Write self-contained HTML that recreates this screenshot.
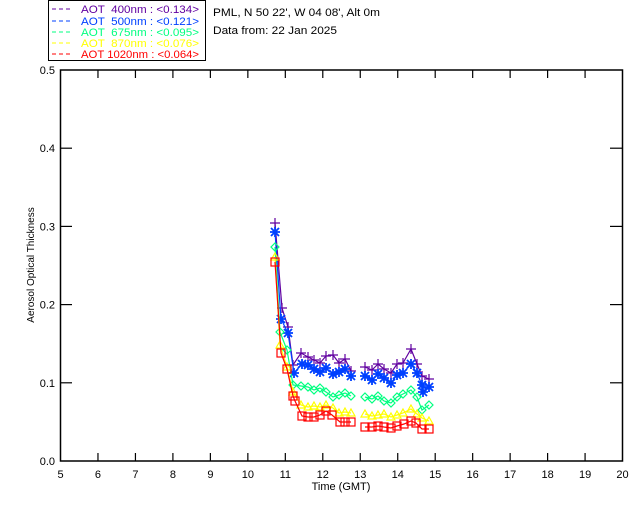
<!DOCTYPE html>
<html><head><meta charset="utf-8"><style>
html,body{margin:0;padding:0;background:#fff;}
svg{display:block;font-family:"Liberation Sans","DejaVu Sans",sans-serif;}
</style></head><body>
<svg id="s" width="640" height="512" xmlns="http://www.w3.org/2000/svg">
<rect width="640" height="512" fill="#fff"/>
<rect x="48.5" y="0.5" width="157" height="60" fill="none" stroke="#000"/>
<g font-size="11">
<line x1="52" y1="9" x2="72" y2="9" stroke="#6000a0" stroke-dasharray="4,3"/>
<text x="81" y="13" fill="#6000a0" textLength="118" lengthAdjust="spacingAndGlyphs" xml:space="preserve">AOT  400nm : &lt;0.134&gt;</text>
<line x1="52" y1="21" x2="72" y2="21" stroke="#0040ff" stroke-dasharray="4,3"/>
<text x="81" y="25" fill="#0040ff" textLength="118" lengthAdjust="spacingAndGlyphs" xml:space="preserve">AOT  500nm : &lt;0.121&gt;</text>
<line x1="52" y1="32" x2="72" y2="32" stroke="#00ff80" stroke-dasharray="4,3"/>
<text x="81" y="36" fill="#00ff80" textLength="118" lengthAdjust="spacingAndGlyphs" xml:space="preserve">AOT  675nm : &lt;0.095&gt;</text>
<line x1="52" y1="43" x2="72" y2="43" stroke="#ffff00" stroke-dasharray="4,3"/>
<text x="81" y="47" fill="#ffff00" textLength="118" lengthAdjust="spacingAndGlyphs" xml:space="preserve">AOT  870nm : &lt;0.076&gt;</text>
<line x1="52" y1="54" x2="72" y2="54" stroke="#ff0000" stroke-dasharray="4,3"/>
<text x="81" y="58" fill="#ff0000" textLength="118" lengthAdjust="spacingAndGlyphs" xml:space="preserve">AOT 1020nm : &lt;0.064&gt;</text>
<text x="213" y="16" fill="#000" textLength="167" lengthAdjust="spacingAndGlyphs">PML, N 50 22', W 04 08', Alt 0m</text>
<text x="213" y="34" fill="#000" textLength="124" lengthAdjust="spacingAndGlyphs">Data from: 22 Jan 2025</text>
<text x="341" y="490" fill="#000" text-anchor="middle">Time (GMT)</text>
<text transform="translate(34,265) rotate(-90)" fill="#000" text-anchor="middle" font-size="10">Aerosol Optical Thickness</text>
</g>
<rect x="60.5" y="70" width="562" height="391" fill="none" stroke="#000" stroke-width="1.5"/>
<g id="ax" stroke="#000" stroke-width="1.2"></g>
<g id="lab" font-size="11" fill="#000"></g>
<g id="data" fill="none" stroke-width="1.2"></g>
</svg>
<script>
var NS="http://www.w3.org/2000/svg";
function el(p,t,a,txt){var e=document.createElementNS(NS,t);for(var k in a)e.setAttribute(k,a[k]);if(txt!=null)e.textContent=txt;document.getElementById(p).appendChild(e);return e;}
for(var h=5;h<=20;h++){var x=60.5+(h-5)*37.47;
 if(h>5&&h<20){el("ax","line",{x1:x,y1:461,x2:x,y2:453});el("ax","line",{x1:x,y1:70,x2:x,y2:78});}
 el("lab","text",{x:x,y:478,"text-anchor":"middle"},String(h));}
for(var i=0;i<=5;i++){var y=461-i*78.2;
 if(i>0&&i<5){el("ax","line",{x1:60,y1:y,x2:72,y2:y});el("ax","line",{x1:622,y1:y,x2:610,y2:y});}
 el("lab","text",{x:55,y:y+4,"text-anchor":"end"},"0."+i);}
var S=[
["#6000a0","plus",[[275,223],[282,308],[288,327],[293,365],[301,353],[308,357],[314,360],[320,363],[326,356],[333,355],[339,363],[345,359],[351,371]],[[365,367],[372,370],[378,364],[384,369],[391,373],[397,364],[403,363],[411,349],[417,364],[422,376],[429,379]]],
["#0040ff","star",[[275,232],[281,319],[288,333],[294,373],[302,364],[308,365],[314,369],[320,372],[326,368],[333,374],[339,372],[345,369],[351,376]],[[365,376],[372,380],[378,374],[384,378],[391,383],[397,375],[403,373],[411,364],[417,373],[422,385],[423,392],[429,387]]],
["#00ff80","dia",[[275,247],[280,332],[287,350],[293,385],[301,386],[308,387],[314,390],[320,388],[326,392],[333,397],[339,395],[345,393],[351,396]],[[365,397],[372,399],[378,396],[384,401],[391,403],[397,397],[403,394],[411,390],[417,397],[422,410],[429,405]]],
["#ffff00","tri",[[275,257],[280,345],[287,367],[293,392],[301,405],[308,407],[314,406],[320,407],[326,405],[333,408],[339,413],[345,412],[351,413]],[[365,414],[372,416],[378,415],[384,414],[391,417],[397,415],[403,413],[411,409],[417,414],[422,418],[429,421]]],
["#ff0000","sq",[[275,262],[281,353],[287,369],[293,396],[295,401],[302,416],[308,417],[314,417],[320,415],[326,411],[332,415],[340,422],[345,422],[351,422]],[[365,427],[372,427],[378,426],[384,427],[391,428],[397,426],[404,424],[411,421],[416,423],[422,429],[429,429]]]
];
S.forEach(function(s){var c=s[0],m=s[1];
 [s[2],s[3]].forEach(function(pts){
  el("data","polyline",{points:pts.map(function(p){return p.join(",")}).join(" "),stroke:c});
  pts.forEach(function(p){var x=p[0],y=p[1];
   if(m=="plus")el("data","path",{d:"M"+(x-5)+" "+y+"h10M"+x+" "+(y-5)+"v10",stroke:c});
   else if(m=="star")el("data","path",{d:"M"+(x-5)+" "+y+"h10M"+x+" "+(y-5)+"v10M"+(x-4)+" "+(y-4)+"l8 8M"+(x-4)+" "+(y+4)+"l8 -8",stroke:c,"stroke-width":1.8});
   else if(m=="dia")el("data","path",{d:"M"+x+" "+(y-4)+"l4 4l-4 4l-4 -4z",stroke:c});
   else if(m=="tri")el("data","path",{d:"M"+x+" "+(y-4)+"l4 7h-8z",stroke:c});
   else el("data","rect",{x:x-4,y:y-4,width:8,height:8,stroke:c});
  });
 });
});
</script>
</body></html>
